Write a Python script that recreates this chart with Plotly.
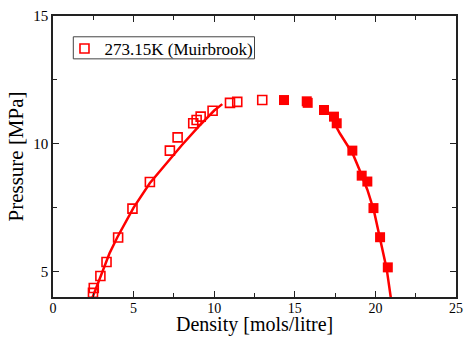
import plotly.graph_objects as go

# Open squares (vapour side) - Muirbrook data
vap_density = [2.48, 2.53, 2.94, 3.32, 4.04, 4.93, 6.01, 7.25, 7.73, 8.70, 8.91, 9.16, 9.90, 10.98, 11.43, 12.98]
vap_pressure = [4.16, 4.35, 4.82, 5.37, 6.33, 7.46, 8.50, 9.73, 10.25, 10.80, 10.93, 11.06, 11.29, 11.60, 11.64, 11.71]

# Filled squares (liquid side)
liq_density = [14.33, 15.74, 15.80, 16.81, 17.43, 17.60, 18.57, 19.15, 19.50, 19.88, 20.29, 20.77]
liq_pressure = [11.71, 11.66, 11.60, 11.32, 11.06, 10.80, 9.73, 8.75, 8.52, 7.48, 6.34, 5.16]

# Fitted curves
vap_line_density = [2.40, 3.0, 3.5, 4.0, 5.0, 6.0, 7.0, 8.0, 9.0, 10.0, 10.5]
vap_line_pressure = [3.9, 4.9, 5.7, 6.35, 7.5, 8.45, 9.2, 9.95, 10.65, 11.3, 11.55]
liq_line_density = [17.2, 17.8, 18.3, 18.6, 19.0, 19.5, 19.9, 20.3, 20.7, 20.95, 21.0]
liq_line_pressure = [11.1, 10.4, 9.9, 9.6, 9.0, 8.2, 7.4, 6.3, 5.1, 4.0, 3.8]

legend_label = "273.15K (Muirbrook)"
x_title = "Density [mols/litre]"
y_title = "Pressure [MPa]"

RED = "#ff0000"
FONT = "Liberation Serif, Times New Roman, serif"
AX = "#222222"

fig = go.Figure()
fig.add_trace(go.Scatter(x=vap_line_density, y=vap_line_pressure, mode="lines",
                         line=dict(color=RED, width=2.5), showlegend=False))
fig.add_trace(go.Scatter(x=liq_line_density, y=liq_line_pressure, mode="lines",
                         line=dict(color=RED, width=2.5), showlegend=False))
fig.add_trace(go.Scatter(x=vap_density, y=vap_pressure, mode="markers",
                         name=legend_label,
                         marker=dict(symbol="square-open", size=9, color=RED, line=dict(width=1.6, color=RED)),
                         cliponaxis=True))
fig.add_trace(go.Scatter(x=liq_density, y=liq_pressure, mode="markers", showlegend=False,
                         marker=dict(symbol="square", size=10, color=RED, line=dict(width=0)),
                         cliponaxis=True))

axis_common = dict(
    showgrid=False, zeroline=False, showline=True, linecolor=AX, linewidth=1.6,
    mirror="ticks", ticks="inside", ticklen=6, tickwidth=1.2, tickcolor=AX,
    automargin=False,
)

fig.update_xaxes(range=[0, 25], dtick=5, tick0=0, ticklabelstandoff=-3,
                 tickfont=dict(family=FONT, size=14, color="black"),
                 minor=dict(dtick=2.5, ticks="inside", ticklen=4, tickcolor=AX, tickwidth=1.2),
                 **axis_common)
fig.update_yaxes(range=[4, 15], dtick=5, tick0=0, title_text=y_title, title_standoff=4,
                 tickfont=dict(family=FONT, size=15, color="black"),
                 title_font=dict(family=FONT, size=21, color="black"),
                 minor=dict(dtick=2.5, ticks="inside", ticklen=4, tickcolor=AX, tickwidth=1.2),
                 **axis_common)

# x-axis title, anchored to the bottom edge of the page
fig.add_annotation(text=x_title, xref="paper", yref="paper", x=0.501, y=-40 / 281,
                   xanchor="center", yanchor="bottom", showarrow=False, borderpad=0,
                   font=dict(family=FONT, size=20, color="black"))

# Legend frame
fig.add_shape(type="rect", xref="paper", yref="paper",
              x0=0.0504, x1=0.500, y0=0.8475, y1=0.926,
              line=dict(color="#444444", width=1), fillcolor="white", layer="below")

fig.update_layout(
    width=467, height=337,
    margin=dict(l=53, r=11, t=16, b=40),
    plot_bgcolor="white", paper_bgcolor="white",
    font=dict(family=FONT, color="black"),
    legend=dict(x=0.0285, y=0.883, xanchor="left", yanchor="middle",
                borderwidth=0, bgcolor="rgba(0,0,0,0)",
                font=dict(family=FONT, size=17, color="black"),
                itemwidth=30, tracegroupgap=0),
)

fig.write_html("out.html")
